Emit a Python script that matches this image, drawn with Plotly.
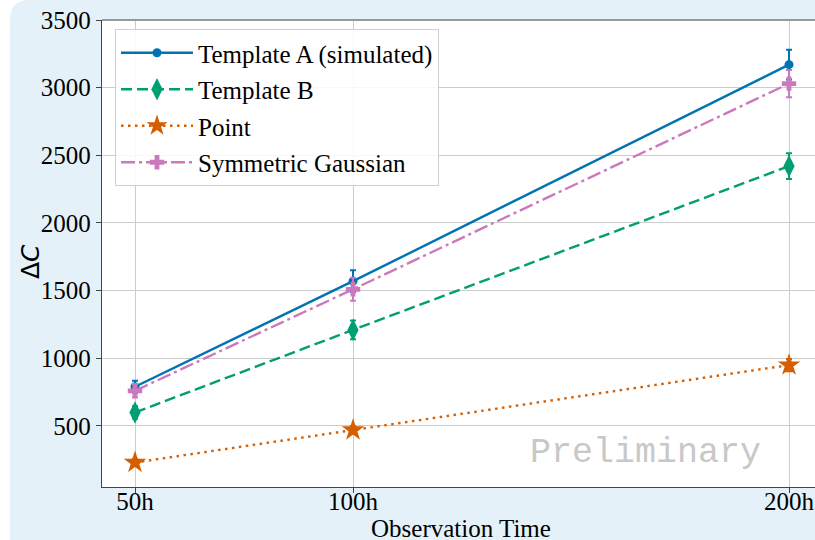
import plotly.graph_objects as go

# Observation times (hours) and their tick labels
hours = [50, 100, 200]
hour_labels = ["50h", "100h", "200h"]

# Delta C for each spatial model, with 1-sigma uncertainties
template_a = [790, 1570, 3170]
template_a_err = [45, 80, 110]
template_b = [600, 1210, 2420]
template_b_err = [45, 70, 95]
point_src = [230, 470, 950]
point_src_err = [25, 30, 45]
sym_gauss = [760, 1510, 3030]
sym_gauss_err = [50, 85, 100]

series = [
    ("Template A (simulated)", template_a, template_a_err, "#0173b2", "solid", "circle", 9),
    ("Template B", template_b, template_b_err, "#029e73", "11px,5px", "diamond-tall", 16),
    ("Point", point_src, point_src_err, "#d55e00", "2.5px,4.5px", "star", 17),
    ("Symmetric Gaussian", sym_gauss, sym_gauss_err, "#cc78bc", "14px,4px,3px,4px", "cross", 12),
]

W, H = 815, 540
ML, MR, MT, MB = 102, 0, 20, 53
PW, PH = W - ML - MR, H - MT - MB


def px(x):
    return (x - ML) / PW


def py(y):
    return (H - MB - y) / PH


fig = go.Figure()
for i, (name, vals, errs, color, dash, symbol, size) in enumerate(series):
    fig.add_trace(go.Scatter(
        x=hours, y=vals, name=name, mode="lines+markers",
        legendgroup=f"g{i}",
        line=dict(color=color, width=2.4, dash=dash),
        marker=dict(symbol=symbol, size=size, color=color, line=dict(width=0)),
        error_y=dict(type="data", array=errs, visible=True, color=color,
                     thickness=2, width=3),
    ))

serif = "Liberation Serif"

# Slide panel: white strip at the left edge with a rounded top-left corner
strip = (f"M {px(-20)},{py(-20)} L {px(30)},{py(-20)} L {px(30)},{py(0)} "
         f"Q {px(10)},{py(0)} {px(10)},{py(20)} L {px(10)},{py(560)} "
         f"L {px(-20)},{py(560)} Z")

fig.update_layout(
    width=W, height=H,
    margin=dict(l=ML, r=MR, t=MT, b=MB),
    paper_bgcolor="#e4f1f8",
    plot_bgcolor="white",
    font=dict(family=serif, size=25, color="black"),
    showlegend=True,
    legend=dict(
        x=px(115), y=py(29), xanchor="left", yanchor="top",
        bgcolor="rgba(255,255,255,0.85)", bordercolor="#d0d0d0", borderwidth=1,
        font=dict(family=serif, size=25, color="black"),
        traceorder="grouped", tracegroupgap=1, itemwidth=72,
    ),
    xaxis=dict(
        range=[42.43, 205.96], tickvals=hours, ticktext=hour_labels,
        showgrid=True, gridcolor="#cccccc", gridwidth=1,
        showline=True, linecolor="#444444", linewidth=1.3, mirror=False,
        ticks="outside", ticklen=5, tickcolor="#444444",
        ticklabelstandoff=-13,
        tickfont=dict(family=serif, size=25, color="black"),
        zeroline=False,
    ),
    yaxis=dict(
        range=[49, 3500], tickvals=[500, 1000, 1500, 2000, 2500, 3000, 3500],
        showgrid=True, gridcolor="#cccccc", gridwidth=1,
        showline=True, linecolor="#444444", linewidth=1.3, mirror=False,
        ticks="outside", ticklen=5, tickcolor="#444444",
        tickfont=dict(family=serif, size=25, color="black"),
        zeroline=False,
    ),
    shapes=[
        dict(type="path", xref="paper", yref="paper", path=strip,
             fillcolor="white", line=dict(width=0), layer="below"),
        dict(type="line", xref="paper", yref="paper", x0=0, x1=1, y0=1, y1=1,
             line=dict(color="#999999", width=2)),
    ],
    annotations=[
        dict(text="Observation Time", xref="paper", yref="paper",
             x=px(461), y=py(528), xanchor="center", yanchor="middle",
             showarrow=False, font=dict(family=serif, size=25, color="black")),
        dict(text="Δ<i>C</i>", xref="paper", yref="paper",
             x=px(30), y=py(262), xanchor="center", yanchor="middle",
             textangle=-90, showarrow=False,
             font=dict(family="DejaVu Sans", size=25, color="black")),
        dict(text="Preliminary", xref="paper", yref="paper",
             x=px(645), y=py(453), xanchor="center", yanchor="middle",
             showarrow=False,
             font=dict(family="Liberation Mono", size=35, color="#c8c8c8")),
    ],
)

fig.write_html("out.html")
